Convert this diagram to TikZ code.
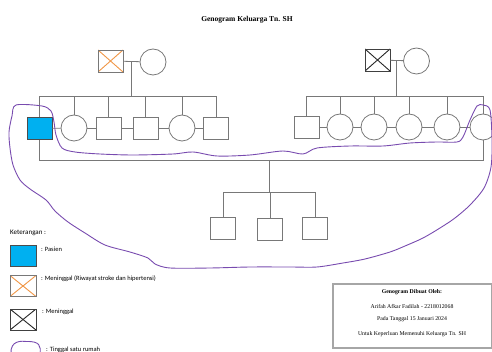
\documentclass[tikz,border=0pt]{standalone}
\usepackage{fontspec}
\setmainfont{Liberation Serif}
\newfontfamily\legendfont{Carlito}
\usetikzlibrary{shapes,positioning,calc}

\definecolor{pasienblue}{RGB}{0,176,240}
\definecolor{strokeorange}{RGB}{240,150,70}
\definecolor{househue}{RGB}{120,75,175}
\definecolor{linegray}{RGB}{120,120,120}

\begin{document}
\begin{tikzpicture}[
    x=1pt, y=-1pt,
    male/.style={rectangle, draw=linegray, line width=0.8pt, minimum width=25pt, minimum height=22pt, inner sep=0pt},
    female/.style={circle, draw=linegray, line width=0.8pt, minimum size=26pt, inner sep=0pt},
    pasien/.style={male, fill=pasienblue, draw=black!70},
    strokedead/.style={male, path picture={
        \draw[strokeorange, line width=0.9pt] (path picture bounding box.north west) -- (path picture bounding box.south east);
        \draw[strokeorange, line width=0.9pt] (path picture bounding box.south west) -- (path picture bounding box.north east);}},
    dead/.style={male, draw=black!75, path picture={
        \draw[black!85, line width=0.9pt] (path picture bounding box.north west) -- (path picture bounding box.south east);
        \draw[black!85, line width=0.9pt] (path picture bounding box.south west) -- (path picture bounding box.north east);}},
    link/.style={draw=linegray, line width=0.8pt},
    house/.style={draw=househue, line width=0.9pt},
    legend/.style={font=\legendfont\fontsize{6.5}{8}\selectfont, anchor=west, inner sep=0pt},
    credit/.style={font=\fontsize{5.8}{7}\selectfont, inner sep=0pt}
]
\useasboundingbox (0,0) rectangle (492,352);

% Title
\node[font=\bfseries\fontsize{7.5}{9}\selectfont] (title) at (247,20) {Genogram Keluarga Tn. SH};

% Grandparents (left)
\node[strokedead] (gpL) at (110.5,61) {};
\node[female] (gmL) at (153,62) {};
\draw[link] (gpL) -- (gmL);
\coordinate (mL) at ($(gpL.east)!0.5!(gmL.west)$);
\coordinate (sibL) at (132,96);

% Grandparents (right)
\node[dead] (gpR) at (377.5,60) {};
\node[female] (gmR) at (416.5,61) {};
\draw[link] (gpR) -- (gmR);
\coordinate (mR) at ($(gpR.east)!0.5!(gmR.west)$);
\coordinate (sibR) at (397,96);

% Children (left)
\node[pasien] (c1) at (39.5,128.5) {};
\node[female] (c2) at (74,128) {};
\node[male] (c3) at (108.5,128) {};
\node[male] (c4) at (145.5,128) {};
\node[female] (c5) at (182,128) {};
\node[male] (c6) at (216,128) {};

% Children (right)
\node[male] (d1) at (306.5,127) {};
\node[female] (d2) at (340,127) {};
\node[female] (d3) at (374,127) {};
\node[female] (d4) at (409,127) {};
\node[female] (d5) at (447,127) {};
\node[female] (d6) at (483,127) {};

% Sibling lines
\draw[link] (mL) -- (mL |- sibL);
\draw[link] (c1.north) -- (c1.north |- sibL) -- (c6.north |- sibL) -- (c6.north);
\foreach \k in {c2,c3,c4,c5}
    \draw[link] (\k.north) -- (\k.north |- sibL);
\draw[link] (c1) -- (c2);
\draw[link] (c2) -- (c3);
\draw[link] (c3) -- (c4);
\draw[link] (c4) -- (c5);
\draw[link] (c5) -- (c6);

\draw[link] (mR) -- (mR |- sibR);
\draw[link] (d1.north) -- (d1.north |- sibR) -- (d6.north |- sibR) -- (d6.north);
\foreach \k in {d2,d3,d4,d5}
    \draw[link] (\k.north) -- (\k.north |- sibR);
\draw[link] (d1) -- (d2);
\draw[link] (d2) -- (d3);
\draw[link] (d3) -- (d4);
\draw[link] (d4) -- (d5);
\draw[link] (d5) -- (d6);

% Marriage of patient
\coordinate (cpl) at (269.5,160);
\coordinate (gsib) at (269.5,192);
\draw[link] (c1.south) |- (d6.south |- cpl) -- (d6.south);
\draw[link] (cpl) -- (gsib);

% Grandchildren
\node[male] (g1) at (223,228) {};
\node[male] (g2) at (270,229) {};
\node[male] (g3) at (315,228.5) {};
\draw[link] (g1.north) |- (g3.north |- gsib) -- (g3.north);
\draw[link] (g2.north) -- (g2.north |- gsib);

% Household
\draw[house] plot[smooth cycle, tension=0.5] coordinates {
    (16,105) (42,106) (51,111) (54,122) (56,135) (62,148) (75,152) (100,154)
    (133,155) (173,154) (193,152) (217,156) (250,155) (283,151) (303,154)
    (317,148) (350,146) (383,146) (410,143) (437,142) (457,142) (463,137)
    (470,120) (477,106) (483,105) (490,110) (492,140) (491,167) (484,188)
    (470,205) (455,218) (440,228) (423,238) (405,246) (390,252) (365,259)
    (343,263) (317,267) (290,267) (250,267) (210,268) (170,268) (155,264)
    (148,258) (130,252) (105,245) (85,233) (68,222) (55,211) (46,200)
    (30,189) (20,180) (13,165) (10,148) (9,132) (12,116)};

% Legend
\node[legend, font=\legendfont\fontsize{7}{8}\selectfont] (ket) at (10,233) {Keterangan :};
\node[pasien, minimum width=26pt, minimum height=21pt] (leg1) at (23,255.5) {};
\node[legend] (leg1txt) at (41,249) {: Pasien};
\node[strokedead, minimum width=26pt, minimum height=21pt] (leg2) at (23,286) {};
\node[legend] (leg2txt) at (41,279) {: Meninggal (Riwayat stroke dan hipertensi)};
\node[dead, minimum width=26pt, minimum height=21pt] (leg3) at (23,319.5) {};
\node[legend] (leg3txt) at (42,311.5) {: Meninggal};
\coordinate (leg4a) at (11,354);
\coordinate (leg4b) at (40,354);
\draw[house] (leg4a) .. controls (10,340) and (22,341) .. (26,341.5) .. controls (40,341) and (41,346) .. (leg4b);
\node[legend] (leg4txt) at (46,350) {: Tinggal satu rumah};

% Credit box
\node[draw=gray!70, line width=1.2pt, minimum width=159pt, minimum height=64pt, inner sep=0pt] (box) at (412.5,316) {};
\node[credit, font=\bfseries\fontsize{5.8}{7}\selectfont] (cr1) at (412,292) {Genogram Dibuat Oleh:};
\node[credit] (cr2) at (412,306) {Arifah Afkar Fadilah - 2218012068};
\node[credit] (cr3) at (412,319.5) {Pada Tanggal 15 Januari 2024};
\node[credit] (cr4) at (412,334) {Untuk Keperluan Memenuhi Keluarga Tn. SH};

\end{tikzpicture}
\end{document}
